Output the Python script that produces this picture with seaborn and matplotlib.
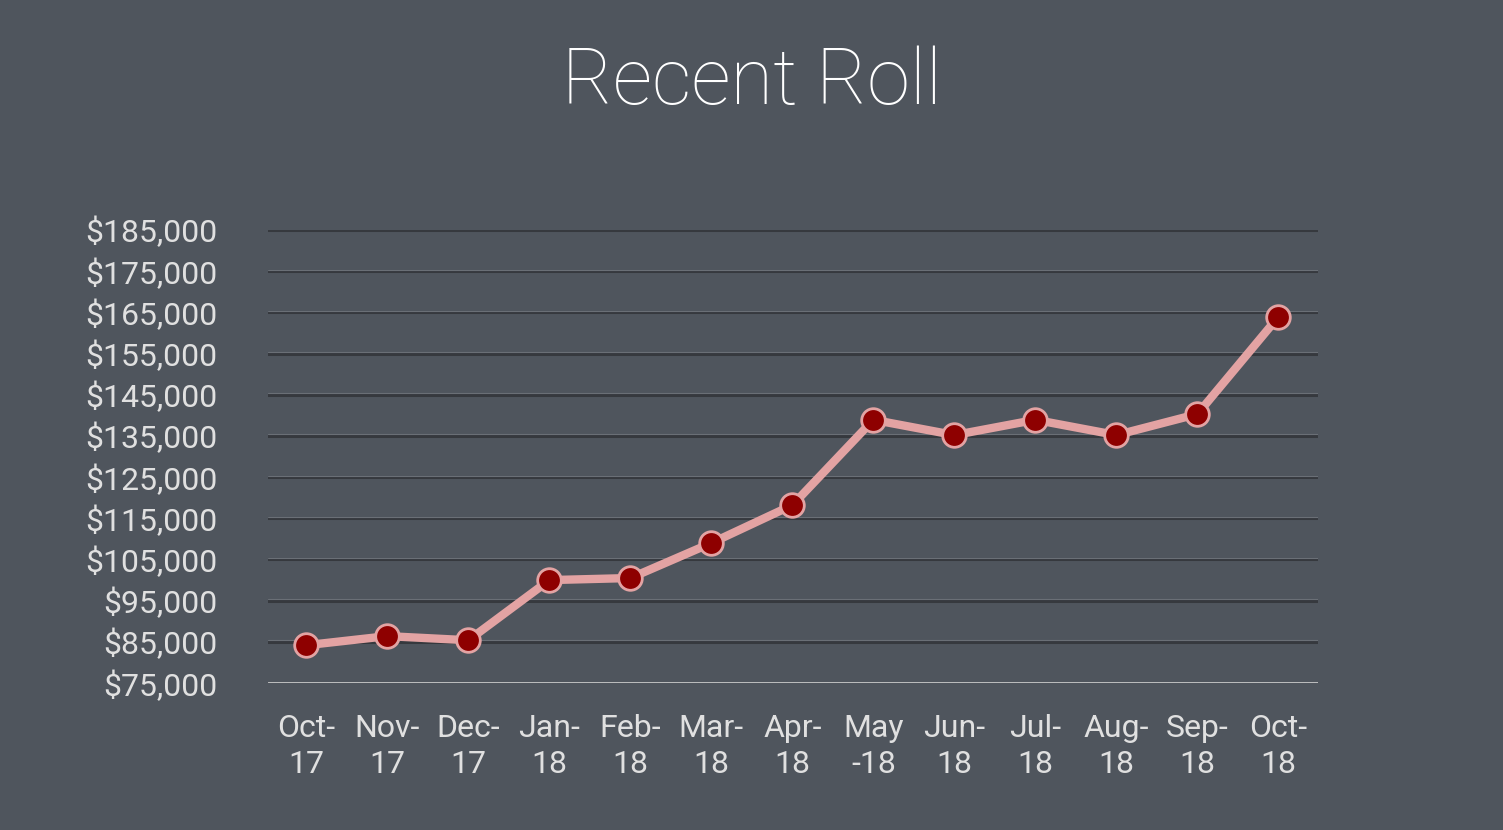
import matplotlib
matplotlib.use("Agg")
import matplotlib.pyplot as plt
import seaborn as sns
import pandas as pd

# data
months = ["Oct-\n17", "Nov-\n17", "Dec-\n17", "Jan-\n18", "Feb-\n18", "Mar-\n18", "Apr-\n18",
          "May\n-18", "Jun-\n18", "Jul-\n18", "Aug-\n18", "Sep-\n18", "Oct-\n18"]
roll = [84200, 86400, 85400, 100000, 100500, 109000, 118200,
        138900, 135200, 138900, 135200, 140300, 163900]
yticks = list(range(75000, 185001, 10000))

bg = "#4f555d"
sns.set_style("dark")
plt.rcParams["font.family"] = ["Roboto", "DejaVu Sans"]

df = pd.DataFrame({"x": range(len(months)), "roll": roll})

fig = plt.figure(figsize=(15.03, 8.30), dpi=100, facecolor=bg)
ax = fig.add_axes([0.178, 0.177, 0.699, 0.546])
ax.set_facecolor(bg)

for v in yticks[1:]:
    ax.axhline(v, color="#36393e", lw=2.2, zorder=1)
    ax.axhline(v + 350, color="#6a6f76", lw=0.8, zorder=1)
ax.axhline(75000, color="#c8c8c8", lw=2, zorder=2)

sns.lineplot(data=df, x="x", y="roll", ax=ax, color="#e3a3a3", lw=6,
             marker="o", markersize=17, markerfacecolor="#8e0000",
             markeredgecolor="#e3a3a3", markeredgewidth=2, zorder=3)

ax.set_xlim(-0.48, 12.49)
ax.set_ylim(75000, 185000)
ax.set_yticks(yticks)
ax.set_yticklabels([f"${v:,}" for v in yticks])
ax.set_xticks(range(len(months)))
ax.set_xticklabels(months, linespacing=1.3)
ax.tick_params(colors="#e0e0e0", labelsize=23, length=0)
ax.tick_params(axis="x", pad=22)
ax.tick_params(axis="y", pad=36)
ax.set_xlabel("")
ax.set_ylabel("")
ax.grid(False)
for s in ax.spines.values():
    s.set_visible(False)

fig.text(0.5, 0.9, "Recent Roll", ha="center", va="center", color="white",
         fontsize=56, fontweight="light")

fig.savefig("out.png", dpi=100, facecolor=bg)
